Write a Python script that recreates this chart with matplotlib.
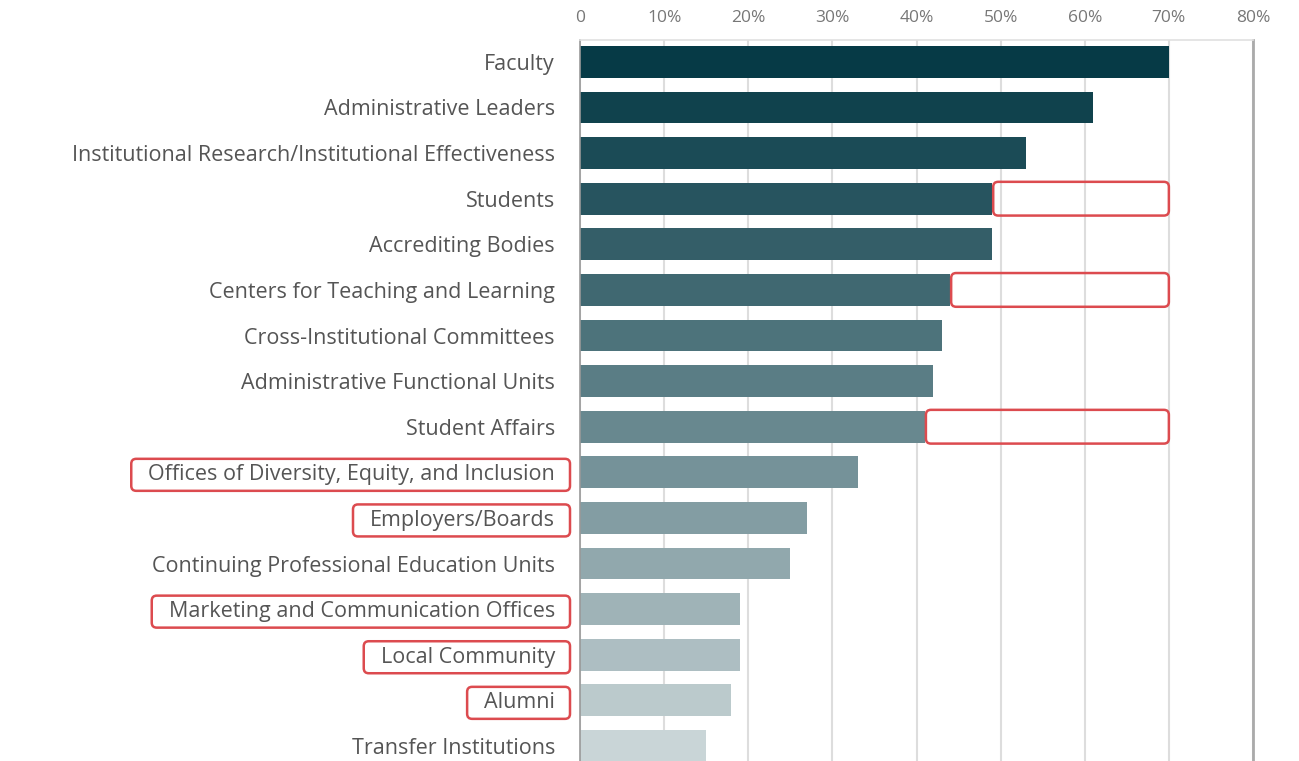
import matplotlib
matplotlib.use("Agg")
import matplotlib.pyplot as plt
import numpy as np
from matplotlib.patches import FancyBboxPatch
from matplotlib.transforms import IdentityTransform
from matplotlib.colors import to_rgb

categories = ["Faculty", "Administrative Leaders",
              "Institutional Research/Institutional Effectiveness", "Students",
              "Accrediting Bodies", "Centers for Teaching and Learning",
              "Cross-Institutional Committees", "Administrative Functional Units",
              "Student Affairs", "Offices of Diversity, Equity, and Inclusion",
              "Employers/Boards", "Continuing Professional Education Units",
              "Marketing and Communication Offices", "Local Community", "Alumni",
              "Transfer Institutions"]
values = [70, 61, 53, 49, 49, 44, 43, 42, 41, 33, 27, 25, 19, 19, 18, 15]
tick_vals = [0, 10, 20, 30, 40, 50, 60, 70, 80]
tick_labels = ["0", "10%", "20%", "30%", "40%", "50%", "60%", "70%", "80%"]

# highlighted labels and bars with an empty box up to 70%
boxed_labels = ["Offices of Diversity, Equity, and Inclusion", "Employers/Boards",
                "Marketing and Communication Offices", "Local Community", "Alumni"]
gap_bars = ["Students", "Centers for Teaching and Learning", "Student Affairs"]
gap_target = 70

red = "#dc4b4f"
c0 = np.array(to_rgb("#063a46"))
c1 = np.array(to_rgb("#c9d5d7"))
n = len(categories)
colors = [tuple(c0 + (c1 - c0) * (i / (n - 1)) ** 1.1) for i in range(n)]

fig = plt.figure(figsize=(12.99, 7.61), dpi=100)
ax = fig.add_axes([580/1299, 0, (1253-580)/1299, (761-40)/761])

y = np.arange(n)
ax.barh(y, values, height=0.70, color=colors, zorder=2)

ax.set_xlim(0, 80)
ax.set_ylim(15.33, -0.48)
ax.xaxis.tick_top()
ax.set_xticks(tick_vals)
ax.set_xticklabels(tick_labels, fontsize=12.5, color="#777777", family="Open Sans")
ax.set_yticks(y)
ax.set_yticklabels(categories, fontsize=15.5, color="#555555", family="Open Sans")
ax.tick_params(axis="both", length=0)
ax.tick_params(axis="y", pad=18)
ax.tick_params(axis="x", pad=10)
ax.grid(axis="x", color="#dddddd", linewidth=1.5, zorder=0)

ax.spines["bottom"].set_visible(False)
ax.spines["left"].set_color("#999999")
ax.spines["left"].set_linewidth(1.2)
ax.spines["right"].set_color("#aaaaaa")
ax.spines["right"].set_linewidth(2)
ax.spines["top"].set_color("#e0e0e0")
ax.spines["top"].set_linewidth(1.2)

fig.canvas.draw()
renderer = fig.canvas.get_renderer()

# red boxes around selected labels
for lab in ax.get_yticklabels():
    if lab.get_text() in boxed_labels:
        bb = lab.get_window_extent(renderer)
        yc = (bb.y0 + bb.y1) / 2
        x0, x1 = bb.x0 - 17, bb.x1 + 15
        p = FancyBboxPatch((x0, yc - 16), x1 - x0, 32,
                           boxstyle="round,pad=0,rounding_size=5",
                           fc="none", ec=red, lw=1.8, transform=IdentityTransform())
        fig.add_artist(p)

# empty red boxes from bar end to 70%
for i, cat in enumerate(categories):
    if cat in gap_bars:
        (px0, py0) = ax.transData.transform((values[i], y[i] + 0.37))
        (px1, py1) = ax.transData.transform((gap_target, y[i] - 0.37))
        p = FancyBboxPatch((px0 + 1, py0), px1 - px0 - 1, py1 - py0,
                           boxstyle="round,pad=0,rounding_size=5",
                           fc="none", ec=red, lw=1.8, transform=IdentityTransform(),
                           zorder=5)
        fig.add_artist(p)

fig.savefig("out.png", dpi=100)
